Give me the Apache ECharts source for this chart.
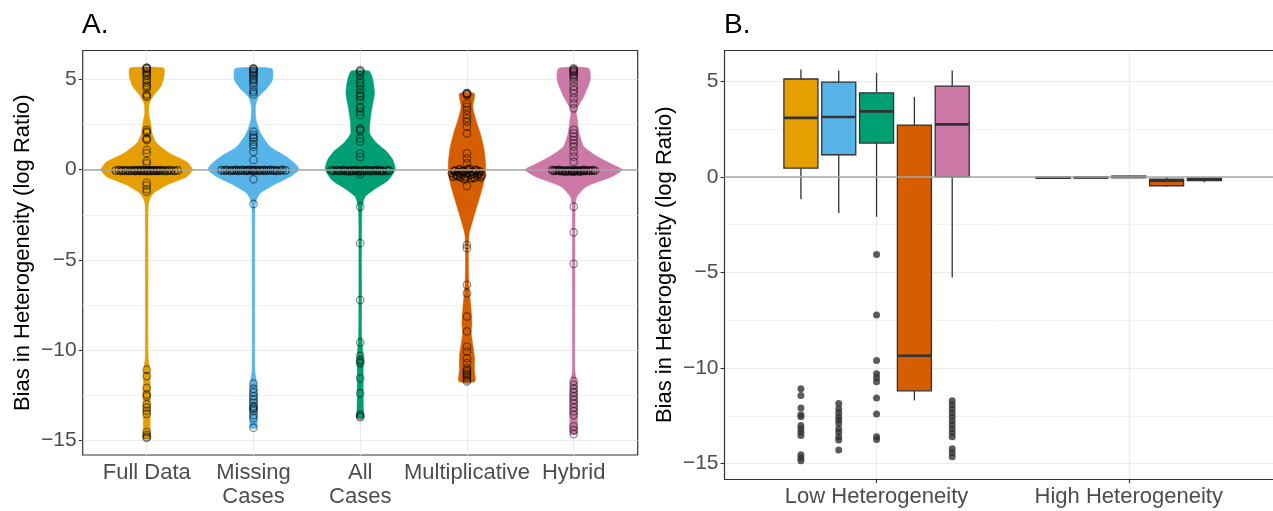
<!DOCTYPE html>
<html>
<head>
<meta charset="utf-8">
<script src="https://cdn.jsdelivr.net/npm/echarts@6/dist/echarts.min.js"></script>
<style>
  html, body { margin: 0; padding: 0; background: #fff; }
  #chart { width: 1273px; height: 511px; }
</style>
</head>
<body>
<div id="chart"></div>
<script>
// methods and colours (Okabe-Ito)
const methods = ['Full Data', 'Missing\nCases', 'All\nCases', 'Multiplicative', 'Hybrid'];
const colors = ['#E69F00', '#56B4E9', '#009E73', '#D55E00', '#CC79A7'];
const hetGroups = ['Low Heterogeneity', 'High Heterogeneity'];
const yTicks = [-15, -10, -5, 0, 5];
const yMinor = [-12.5, -7.5, -2.5, 2.5];

// violin outlines: [value, half width in category units]
const violinFull = [[5.63, 0.157], [5.15, 0.162], [4.6, 0.131], [4.13, 0.068], [3.67, 0.025], [3.12, 0.019],
  [2.57, 0.037], [2.01, 0.05], [1.46, 0.094], [0.9, 0.216], [0.44, 0.375], [0, 0.428], [-0.39, 0.375],
  [-0.85, 0.187], [-1.31, 0.063], [-1.68, 0.025], [-2.05, 0.013], [-6, 0.012], [-10.4, 0.013],
  [-10.9, 0.024], [-11.5, 0.031], [-12.5, 0.033], [-13.5, 0.033], [-14.4, 0.032], [-14.87, 0.03]];
const violinMissing = [[5.6, 0.172], [4.96, 0.178], [4.5, 0.125], [4.04, 0.047], [3.49, 0.019], [2.75, 0.025],
  [2.0, 0.068], [1.27, 0.156], [0.72, 0.309], [0.26, 0.403], [0, 0.426], [-0.39, 0.344], [-0.85, 0.187],
  [-1.31, 0.063], [-1.68, 0.028], [-2.05, 0.014], [-6, 0.012], [-11.1, 0.013], [-11.6, 0.025],
  [-12.2, 0.035], [-13, 0.038], [-13.8, 0.035], [-14.3, 0.03]];
const violinAll = [[5.46, 0.084], [4.96, 0.119], [4.22, 0.134], [3.48, 0.112], [2.75, 0.094], [2.01, 0.09],
  [1.46, 0.156], [0.995, 0.25], [0.54, 0.306], [0.02, 0.328], [-0.57, 0.266], [-1.12, 0.125],
  [-1.49, 0.047], [-2.05, 0.019], [-3, 0.013], [-6, 0.012], [-9.2, 0.014], [-10, 0.024],
  [-11, 0.028], [-12.4, 0.028], [-13.3, 0.03], [-13.73, 0.03]];
const violinMult = [[4.22, 0.07], [3.48, 0.055], [2.75, 0.084], [2.01, 0.125], [1.27, 0.156], [0.54, 0.172],
  [-0.02, 0.175], [-0.75, 0.156], [-1.68, 0.112], [-2.6, 0.065], [-3.52, 0.021], [-4.26, 0.014],
  [-5.37, 0.014], [-6.47, 0.019], [-7.58, 0.037], [-8.5, 0.047], [-9.05, 0.04], [-10.35, 0.07],
  [-11.08, 0.07], [-11.73, 0.075]];
const violinHybrid = [[5.61, 0.141], [4.96, 0.155], [4.04, 0.094], [3.3, 0.025], [2.75, 0.035], [2.01, 0.053],
  [1.27, 0.097], [0.72, 0.225], [0.26, 0.375], [0, 0.455], [-0.39, 0.356], [-0.94, 0.117],
  [-1.49, 0.031], [-2.05, 0.014], [-6, 0.012], [-11.1, 0.012], [-11.7, 0.025], [-12.3, 0.035],
  [-13.5, 0.035], [-14.64, 0.03]];
const violins = [violinFull, violinMissing, violinAll, violinMult, violinHybrid];

// raw estimates drawn as open circles on the violins (centre line)
const ptsFull = [5.65, 5.64, 5.61, 5.58, 5.47, 5.4, 5.33, 5.25, 5.18, 5.0, 4.95, 4.81, 4.67, 4.6, 4.5,
  4.19, 4.1, 4.04, 2.2, 2.1, 2.05, 1.74, 1.7, 1.64, 1.09, 0.91, 0.48, 0.35, -0.72, -0.87, -1.09, -1.22,
  -11.08, -11.43, -12.09, -12.44, -12.55, -13.0, -13.17, -13.35, -13.52, -14.53, -14.7, -14.85, -14.8];
const ptsMissing = [5.61, 5.58, 5.55, 5.48, 5.4, 5.33, 5.25, 5.18, 5.06, 4.98, 4.9, 4.78, 4.63, 4.41,
  4.3, 4.17, 2.1, 1.92, 1.8, 1.74, 1.55, 1.4, 1.27, 1.0, 0.54, -0.53, -1.9, -11.85, -12.13, -12.34,
  -12.55, -12.72, -12.9, -13.1, -13.17, -13.25, -13.35, -13.59, -13.76, -14.29];
const ptsAll = [5.51, 5.46, 5.4, 5.24, 4.96, 4.8, 4.68, 4.44, 4.22, 4.1, 4.04, 3.85, 3.48, 3.4, 3.21,
  3.02, 2.29, 2.2, 2.16, 1.74, 1.55, 0.9, 0.69, -0.24, -2.05, -4.07, -7.22, -9.57, -10.31, -10.53,
  -10.62, -10.72, -11.55, -12.38, -13.57, -13.65, -13.7];
const ptsMult = [4.24, 4.22, 4.2, 4.18, 4.13, 3.67, 3.49, 3.3, 3.03, 2.84, 2.66, 2.38, 2.01, 0.9, 0.63,
  0.35, -0.9, -4.17, -4.35, -6.38, -6.84, -8.13, -8.96, -9.8, -10.07, -10.44, -10.71, -10.99, -11.1,
  -11.17, -11.28, -11.36, -11.45, -11.54, -11.65, -11.73];
const ptsHybrid = [5.61, 5.56, 5.52, 5.47, 5.42, 5.33, 5.24, 5.15, 5.06, 4.87, 4.6, 4.41, 4.23, 3.95,
  3.67, 3.4, 2.2, 2.01, 1.83, 1.64, 1.46, 1.27, 1.0, 0.72, 0.44, -2.05, -3.47, -5.22, -11.71, -11.92,
  -12.13, -12.34, -12.55, -12.75, -12.96, -13.17, -13.38, -13.59, -14.22, -14.43, -14.64];
const ptsCentre = [ptsFull, ptsMissing, ptsAll, ptsMult, ptsHybrid];

// the crowd of estimates at zero: [horizontal offset, value]
const bandFull = [[-0.29, -0.05], [-0.26, -0.03], [-0.24, -0.07], [-0.22, -0.04], [-0.2, -0.06], [-0.18, -0.03],
  [-0.16, -0.07], [-0.14, -0.05], [-0.12, -0.03], [-0.11, -0.07], [-0.09, -0.05], [-0.08, -0.03], [-0.06, -0.07],
  [-0.05, -0.04], [-0.03, -0.06], [-0.02, -0.03], [0, -0.07], [0.01, -0.05], [0.03, -0.03], [0.04, -0.07],
  [0.06, -0.04], [0.07, -0.06], [0.09, -0.03], [0.1, -0.07], [0.12, -0.05], [0.13, -0.03], [0.15, -0.06],
  [0.17, -0.04], [0.19, -0.07], [0.21, -0.03], [0.23, -0.05], [0.26, -0.06], [0.29, -0.04]];
const bandMissing = [[-0.3, -0.03], [-0.27, -0.05], [-0.25, -0.02], [-0.22, -0.06], [-0.2, -0.03], [-0.18, -0.05],
  [-0.16, -0.02], [-0.14, -0.06], [-0.12, -0.04], [-0.1, -0.02], [-0.08, -0.06], [-0.06, -0.03], [-0.05, -0.05],
  [-0.03, -0.02], [-0.01, -0.06], [0, -0.04], [0.02, -0.02], [0.04, -0.06], [0.06, -0.03], [0.08, -0.05],
  [0.1, -0.02], [0.12, -0.06], [0.14, -0.04], [0.16, -0.02], [0.18, -0.05], [0.2, -0.03], [0.22, -0.06],
  [0.25, -0.04], [0.27, -0.02], [0.3, -0.04]];
const bandAll = [[-0.27, -0.04], [-0.25, -0.07], [-0.22, -0.03], [-0.2, -0.08], [-0.18, -0.05], [-0.16, -0.03],
  [-0.14, -0.07], [-0.12, -0.05], [-0.1, -0.09], [-0.08, -0.04], [-0.06, -0.07], [-0.04, -0.03], [-0.02, -0.06],
  [0, -0.09], [0.02, -0.04], [0.04, -0.07], [0.06, -0.03], [0.08, -0.06], [0.1, -0.08], [0.12, -0.04],
  [0.14, -0.06], [0.16, -0.03], [0.18, -0.07], [0.2, -0.05], [0.22, -0.08], [0.25, -0.04], [0.27, -0.06]];
const bandMult = [[-0.14, -0.2], [-0.12, -0.08], [-0.11, -0.05], [-0.1, -0.3], [-0.09, -0.35], [-0.08, -0.15],
  [-0.07, 0.02], [-0.06, -0.42], [-0.05, -0.25], [-0.04, -0.06], [-0.03, -0.1], [-0.02, -0.52], [-0.01, -0.4],
  [0, -0.2], [0.01, -0.02], [0.02, 0.05], [0.03, -0.3], [0.04, -0.48], [0.05, -0.12], [0.06, -0.22],
  [0.07, -0.45], [0.08, -0.01], [0.09, -0.05], [0.1, -0.33], [0.11, -0.22], [0.12, -0.1], [0.14, -0.3],
  [-0.13, -0.38], [0.13, -0.42]];
const bandHybrid = [[-0.2, -0.03], [-0.18, -0.06], [-0.16, -0.04], [-0.14, -0.02], [-0.13, -0.07], [-0.11, -0.04],
  [-0.1, -0.09], [-0.08, -0.05], [-0.07, -0.11], [-0.05, -0.03], [-0.04, -0.08], [-0.02, -0.05], [-0.01, -0.12],
  [0, -0.04], [0.01, -0.09], [0.03, -0.03], [0.04, -0.07], [0.06, -0.1], [0.07, -0.04], [0.09, -0.06],
  [0.1, -0.02], [0.12, -0.07], [0.14, -0.04], [0.16, -0.06], [0.18, -0.03], [0.2, -0.05]];
const bands = [bandFull, bandMissing, bandAll, bandMult, bandHybrid];

// panel B boxplots: [lower whisker, Q1, median, Q3, upper whisker]
const boxLow = [[-1.18, 0.45, 3.08, 5.11, 5.61], [-1.9, 1.15, 3.12, 4.95, 5.56], [-2.09, 1.76, 3.42, 4.39, 5.42],
  [-11.69, -11.19, -9.36, 2.7, 4.17], [-5.26, 0.0, 2.74, 4.74, 5.56]];
const boxHigh = [[-0.1, -0.08, -0.05, -0.03, -0.01], [-0.08, -0.06, -0.04, -0.02, 0.0], [-0.05, -0.04, -0.01, 0.03, 0.05],
  [-0.52, -0.47, -0.2, -0.13, -0.03], [-0.29, -0.2, -0.12, -0.07, -0.05]];
const outFull = [-11.08, -11.43, -12.09, -12.44, -12.55, -13.0, -13.17, -13.35, -13.52, -14.53, -14.7, -14.85];
const outMissing = [-11.85, -12.13, -12.34, -12.55, -12.72, -12.9, -13.17, -13.35, -13.59, -13.76, -14.29];
const outAll = [-4.06, -7.23, -9.6, -10.3, -10.51, -10.72, -11.57, -12.4, -13.59, -13.73];
const outMult = [];
const outHybrid = [-11.71, -11.92, -12.13, -12.34, -12.55, -12.75, -12.96, -13.17, -13.38, -13.59, -14.22, -14.43, -14.64];
const outLow = [outFull, outMissing, outAll, outMult, outHybrid];

const FONT = 'Liberation Sans';
const tickLab = v => (v < 0 ? '\u2212' + Math.abs(v) : String(v));
const dodge = 0.15;      // ggplot position_dodge(0.75) for 5 boxes
const boxW = 0.135;
const frame = { show: true, onZero: false, lineStyle: { color: '#333', width: 1.2 } };

function yAxisMajor(grid, line) {
  return {
    type: 'value', gridIndex: grid, min: -15.8, max: 6.6,
    name: 'Bias in Heterogeneity (log Ratio)', nameLocation: 'middle', nameGap: 49,
    nameTextStyle: { fontFamily: FONT, fontSize: 22, color: '#000' },
    axisLine: line ? frame : { show: false },
    axisTick: { show: true, length: 4, customValues: yTicks, lineStyle: { color: '#333', width: 1.1 } },
    axisLabel: { customValues: yTicks, formatter: tickLab, margin: 6, fontFamily: FONT, fontSize: 21, color: '#4D4D4D' },
    splitLine: { show: true, lineStyle: { color: '#EBEBEB', width: 1.2 } }
  };
}
function yAxisMinor(grid) {
  return {
    type: 'value', gridIndex: grid, min: -15.8, max: 6.6, position: 'left',
    axisLine: { show: false }, axisLabel: { show: false },
    axisTick: { show: false, customValues: yMinor },
    splitLine: { show: true, lineStyle: { color: '#F0F0F0', width: 0.8 } }
  };
}

const zeroLine = {
  silent: true, symbol: 'none', label: { show: false },
  lineStyle: { color: '#A6A6A6', width: 1.6, type: 'solid' },
  data: [{ yAxis: 0 }]
};

const series = [];

// violins
series.push({
  type: 'custom', xAxisIndex: 0, yAxisIndex: 0, z: 2,
  data: methods.map((m, i) => [i + 1, 0]),
  renderItem: (params, api) => {
    const i = params.dataIndex;
    const x0 = api.value(0);
    const prof = violins[i];
    const right = prof.map(p => api.coord([x0 + p[1], p[0]]));
    const left = prof.slice().reverse().map(p => api.coord([x0 - p[1], p[0]]));
    return {
      type: 'polygon',
      shape: { points: right.concat(left), smooth: 0.2 },
      style: { fill: colors[i], stroke: colors[i], lineWidth: 0.5 }
    };
  }
});

// points on the violins: the centre line, then the dense crowd at zero
ptsCentre.forEach((arr, i) => {
  series.push({
    type: 'scatter', xAxisIndex: 0, yAxisIndex: 0, z: 3,
    symbol: 'circle', symbolSize: 7.5, silent: true,
    itemStyle: { color: 'rgba(0,0,0,0)', borderColor: 'rgba(0,0,0,0.55)', borderWidth: 1.3 },
    data: arr.map(v => [i + 1, v])
  });
  series.push({
    type: 'scatter', xAxisIndex: 0, yAxisIndex: 0, z: 3,
    symbol: 'circle', symbolSize: 7.5, silent: true,
    itemStyle: { color: 'rgba(0,0,0,0)', borderColor: 'rgba(0,0,0,0.75)', borderWidth: 1.4 },
    data: bands[i].map(p => [i + 1 + p[0], p[1]]),
    markLine: i === 4 ? zeroLine : undefined
  });
});

// boxplots panel B
methods.forEach((m, j) => {
  const off = (j - 2) * dodge;
  series.push({
    type: 'custom', xAxisIndex: 1, yAxisIndex: 2, z: 2,
    data: [[1 + off].concat(boxLow[j]), [2 + off].concat(boxHigh[j])],
    renderItem: (params, api) => {
      const x = api.value(0);
      const hw = boxW / 2;
      const lo = api.coord([x, api.value(1)]);
      const q1 = api.coord([x, api.value(2)]);
      const md = api.coord([x, api.value(3)]);
      const q3 = api.coord([x, api.value(4)]);
      const hi = api.coord([x, api.value(5)]);
      const xl = api.coord([x - hw, 0])[0];
      const xr = api.coord([x + hw, 0])[0];
      const st = { stroke: '#333', lineWidth: 1.3 };
      return {
        type: 'group',
        children: [
          { type: 'line', shape: { x1: lo[0], y1: lo[1], x2: q1[0], y2: q1[1] }, style: st },
          { type: 'line', shape: { x1: q3[0], y1: q3[1], x2: hi[0], y2: hi[1] }, style: st },
          { type: 'rect', shape: { x: xl, y: q3[1], width: xr - xl, height: q1[1] - q3[1] },
            style: { fill: colors[j], stroke: '#333', lineWidth: 1.3 } },
          { type: 'line', shape: { x1: xl, y1: md[1], x2: xr, y2: md[1] }, style: { stroke: '#333', lineWidth: 2.6 } }
        ]
      };
    }
  });
  series.push({
    type: 'scatter', xAxisIndex: 1, yAxisIndex: 2, z: 3, silent: true,
    symbol: 'circle', symbolSize: 7,
    itemStyle: { color: '#333' },
    data: outLow[j].map(v => [1 + off, v]),
    markLine: j === 4 ? zeroLine : undefined
  });
});

const option = {
  animation: false,
  backgroundColor: '#fff',
  textStyle: { fontFamily: FONT },
  graphic: [
    { type: 'text', left: 82, top: 11, style: { text: 'A.', font: '28px "Liberation Sans"', fill: '#000' } },
    { type: 'text', left: 724, top: 11, style: { text: 'B.', font: '28px "Liberation Sans"', fill: '#000' } }
  ],
  grid: [
    { left: 82.7, right: 635.3, top: 50.5, bottom: 56, show: true, borderColor: '#333', borderWidth: 1.2, backgroundColor: 'transparent' },
    // panel B runs past the right edge of the picture, so its frame is drawn by the axes
    { left: 724.5, right: 0, top: 50.5, bottom: 32, show: false }
  ],
  xAxis: [
    {
      type: 'value', gridIndex: 0, min: 0.4, max: 5.6,
      axisLine: { show: false },
      axisTick: { show: true, length: 4, customValues: [1, 2, 3, 4, 5], lineStyle: { color: '#333', width: 1.1 } },
      axisLabel: { customValues: [1, 2, 3, 4, 5], formatter: v => methods[Math.round(v) - 1],
        margin: 6, fontFamily: FONT, fontSize: 22, lineHeight: 24, color: '#4D4D4D' },
      splitLine: { show: true, lineStyle: { color: '#EBEBEB', width: 1.2 } }
    },
    {
      type: 'value', gridIndex: 1, min: 0.397, max: 2.572, position: 'bottom',
      axisLine: frame,
      axisTick: { show: true, length: 4, customValues: [1, 2], lineStyle: { color: '#333', width: 1.1 } },
      axisLabel: { customValues: [1, 2], formatter: v => hetGroups[Math.round(v) - 1],
        margin: 6, fontFamily: FONT, fontSize: 22, lineHeight: 24, color: '#4D4D4D' },
      splitLine: { show: true, lineStyle: { color: '#EBEBEB', width: 1.2 } }
    },
    {
      type: 'value', gridIndex: 1, min: 0.397, max: 2.572, position: 'top',
      axisLine: frame, axisTick: { show: false }, axisLabel: { show: false }, splitLine: { show: false }
    }
  ],
  yAxis: [yAxisMajor(0, false), yAxisMinor(0), yAxisMajor(1, true), yAxisMinor(1)],
  series: series
};

const chart = echarts.init(document.getElementById('chart'), null, { renderer: 'canvas' });
chart.setOption(option);
</script>
</body>
</html>
